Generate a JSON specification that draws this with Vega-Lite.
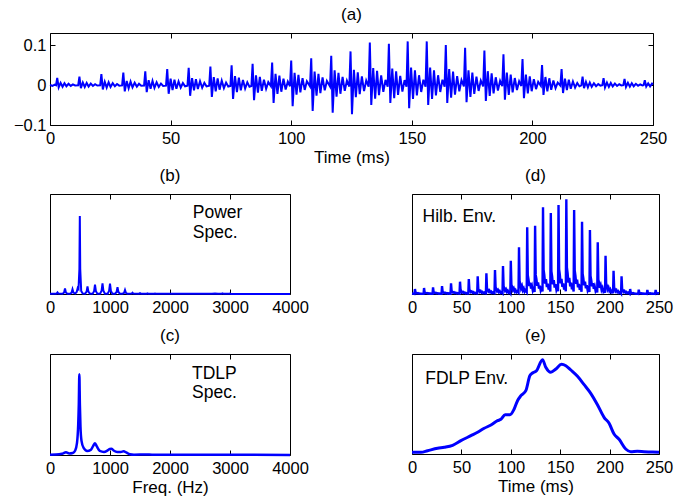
{
  "$schema": "https://vega.github.io/schema/vega-lite/v6.json",
  "padding": {"left": 12, "top": 5, "right": 5, "bottom": 2},
  "background": "white",
  "config": {
    "font": "Liberation Sans",
    "view": {"stroke": "#000", "strokeWidth": 1},
    "axis": {"offset": -5, "tickSize": 5, "tickColor": "#000", "tickWidth": 1, "domain": false, "grid": false, "labelFlush": false, "labelOverlap": false, "labelColor": "#000", "labelFontSize": 16.5, "titleColor": "#000", "titleFontSize": 17, "titleFontWeight": "normal"},
    "axisX": {"labelPadding": 5, "titlePadding": 3},
    "axisY": {"labelPadding": 4},
    "title": {"fontSize": 17, "fontWeight": "normal", "color": "#000", "offset": 9, "baseline": "middle", "frame": "group"}
  },
  "datasets": {
    "sig": [
      {"t":0,"v":0},{"t":1,"v":-0.002},{"t":2,"v":0.001},
      {"t":2.5,"v":-0.0005},{"t":3.0,"v":0.018},{"t":3.6,"v":-0.006},{"t":4.4,"v":0.0054},{"t":5.2,"v":-0.0043},{"t":6.0,"v":0.0045},{"t":6.8,"v":-0.0032},{"t":7.7,"v":0.003},{"t":8.6,"v":-0.0022},{"t":9.5,"v":0.0016},{"t":10.4,"v":-0.0011},
      {"t":11.7,"v":-0.0006},{"t":12.2,"v":0.021},{"t":12.8,"v":-0.008},{"t":13.6,"v":0.0063},{"t":14.4,"v":-0.005},{"t":15.2,"v":0.0053},{"t":16.0,"v":-0.0038},{"t":16.9,"v":0.0035},{"t":17.8,"v":-0.0025},{"t":18.7,"v":0.0019},{"t":19.6,"v":-0.0013},
      {"t":20.8,"v":-0.0008},{"t":21.3,"v":0.027},{"t":21.9,"v":-0.011},{"t":22.7,"v":0.0081},{"t":23.5,"v":-0.0065},{"t":24.3,"v":0.0068},{"t":25.1,"v":-0.0049},{"t":26.0,"v":0.0045},{"t":26.9,"v":-0.0032},{"t":27.8,"v":0.0024},{"t":28.7,"v":-0.0016},
      {"t":29.9,"v":-0.001},{"t":30.4,"v":0.031},{"t":31.0,"v":-0.016},{"t":31.8,"v":0.010},{"t":32.6,"v":-0.008},{"t":33.4,"v":0.0084},{"t":34.2,"v":-0.006},{"t":35.1,"v":0.0056},{"t":36.0,"v":-0.004},{"t":36.9,"v":0.003},{"t":37.8,"v":-0.002},
      {"t":39.0,"v":-0.0012},{"t":39.5,"v":0.034},{"t":40.1,"v":-0.018},{"t":40.9,"v":0.012},{"t":41.7,"v":-0.0096},{"t":42.5,"v":0.010},{"t":43.3,"v":-0.0072},{"t":44.2,"v":0.0067},{"t":45.1,"v":-0.0048},{"t":46.0,"v":0.0036},{"t":46.9,"v":-0.0024},
      {"t":48.1,"v":-0.0016},{"t":48.6,"v":0.040},{"t":49.2,"v":-0.022},{"t":50.0,"v":0.016},{"t":50.8,"v":-0.0128},{"t":51.6,"v":0.0134},{"t":52.4,"v":-0.0096},{"t":53.3,"v":0.009},{"t":54.2,"v":-0.0064},{"t":55.1,"v":0.0048},{"t":56.0,"v":-0.0032},
      {"t":57.0,"v":-0.0017},{"t":57.5,"v":0.043},{"t":58.1,"v":-0.027},{"t":58.9,"v":0.017},{"t":59.7,"v":-0.0136},{"t":60.5,"v":0.0143},{"t":61.3,"v":-0.0102},{"t":62.2,"v":0.0095},{"t":63.1,"v":-0.0068},{"t":64.0,"v":0.0051},{"t":64.9,"v":-0.0034},
      {"t":66.0,"v":-0.002},{"t":66.5,"v":0.046},{"t":67.1,"v":-0.030},{"t":67.9,"v":0.0195},{"t":68.7,"v":-0.0156},{"t":69.5,"v":0.0164},{"t":70.3,"v":-0.0117},{"t":71.2,"v":0.0109},{"t":72.1,"v":-0.0078},{"t":73.0,"v":0.0059},{"t":73.9,"v":-0.0039},
      {"t":74.8,"v":-0.0022},{"t":75.3,"v":0.049},{"t":75.9,"v":-0.035},{"t":76.7,"v":0.022},{"t":77.5,"v":-0.0176},{"t":78.3,"v":0.0185},{"t":79.1,"v":-0.0132},{"t":80.0,"v":0.0123},{"t":80.9,"v":-0.0088},{"t":81.8,"v":0.0066},{"t":82.7,"v":-0.0044},
      {"t":83.5,"v":-0.0024},{"t":84.0,"v":0.053},{"t":84.6,"v":-0.038},{"t":85.4,"v":0.024},{"t":86.2,"v":-0.0192},{"t":87.0,"v":0.0202},{"t":87.8,"v":-0.0144},{"t":88.7,"v":0.0134},{"t":89.6,"v":-0.0096},{"t":90.5,"v":0.0072},
      {"t":91.6,"v":-0.0028},{"t":92.1,"v":0.056},{"t":92.7,"v":-0.045},{"t":93.5,"v":0.028},{"t":94.3,"v":-0.0224},{"t":95.1,"v":0.0235},{"t":95.9,"v":-0.0168},{"t":96.8,"v":0.0157},{"t":97.7,"v":-0.0112},{"t":98.6,"v":0.0084},
      {"t":99.5,"v":-0.003},{"t":100.0,"v":0.061},{"t":100.6,"v":-0.053},{"t":101.4,"v":0.0305},{"t":102.2,"v":-0.0244},{"t":103.0,"v":0.0256},{"t":103.8,"v":-0.0183},{"t":104.7,"v":0.0171},{"t":105.6,"v":-0.0122},{"t":106.5,"v":0.0092},
      {"t":107.8,"v":-0.0034},{"t":108.3,"v":0.067},{"t":108.9,"v":-0.065},{"t":109.7,"v":0.0335},{"t":110.5,"v":-0.0268},{"t":111.3,"v":0.0281},{"t":112.1,"v":-0.0201},{"t":113.0,"v":0.0188},{"t":113.9,"v":-0.0134},{"t":114.8,"v":0.01},
      {"t":116.1,"v":-0.0037},{"t":116.6,"v":0.073},{"t":117.2,"v":-0.069},{"t":118.0,"v":0.0365},{"t":118.8,"v":-0.0292},{"t":119.6,"v":0.0307},{"t":120.4,"v":-0.0219},{"t":121.3,"v":0.0204},{"t":122.2,"v":-0.0146},{"t":123.1,"v":0.011},
      {"t":124.1,"v":-0.0038},{"t":124.6,"v":0.084},{"t":125.2,"v":-0.073},{"t":126.0,"v":0.038},{"t":126.8,"v":-0.0304},{"t":127.6,"v":0.0319},{"t":128.4,"v":-0.0228},{"t":129.3,"v":0.0213},{"t":130.2,"v":-0.0152},{"t":131.1,"v":0.0114},
      {"t":132.1,"v":-0.0043},{"t":132.6,"v":0.106},{"t":133.2,"v":-0.050},{"t":134.0,"v":0.0425},{"t":134.8,"v":-0.034},{"t":135.6,"v":0.0357},{"t":136.4,"v":-0.0255},{"t":137.3,"v":0.0238},{"t":138.2,"v":-0.017},{"t":139.1,"v":0.0128},
      {"t":140.0,"v":-0.0041},{"t":140.5,"v":0.103},{"t":141.1,"v":-0.045},{"t":141.9,"v":0.041},{"t":142.7,"v":-0.0328},{"t":143.5,"v":0.0344},{"t":144.3,"v":-0.0246},{"t":145.2,"v":0.023},{"t":146.1,"v":-0.0164},{"t":147.0,"v":0.0123},
      {"t":147.8,"v":-0.0044},{"t":148.3,"v":0.109},{"t":148.9,"v":-0.058},{"t":149.7,"v":0.0435},{"t":150.5,"v":-0.0348},{"t":151.3,"v":0.0365},{"t":152.1,"v":-0.0261},{"t":153.0,"v":0.0244},{"t":153.9,"v":-0.0174},{"t":154.8,"v":0.0131},
      {"t":155.7,"v":-0.0044},{"t":156.2,"v":0.109},{"t":156.8,"v":-0.050},{"t":157.6,"v":0.0435},{"t":158.4,"v":-0.0348},{"t":159.2,"v":0.0365},{"t":160.0,"v":-0.0261},{"t":160.9,"v":0.0244},{"t":161.8,"v":-0.0174},{"t":162.7,"v":0.0131},
      {"t":163.6,"v":-0.004},{"t":164.1,"v":0.100},{"t":164.7,"v":-0.045},{"t":165.5,"v":0.040},{"t":166.3,"v":-0.032},{"t":167.1,"v":0.0336},{"t":167.9,"v":-0.024},{"t":168.8,"v":0.0224},{"t":169.7,"v":-0.016},{"t":170.6,"v":0.012},
      {"t":171.6,"v":-0.0037},{"t":172.1,"v":0.093},{"t":172.7,"v":-0.043},{"t":173.5,"v":0.037},{"t":174.3,"v":-0.0296},{"t":175.1,"v":0.0311},{"t":175.9,"v":-0.0222},{"t":176.8,"v":0.0207},{"t":177.7,"v":-0.0148},{"t":178.6,"v":0.0111},
      {"t":179.6,"v":-0.0035},{"t":180.1,"v":0.086},{"t":180.7,"v":-0.040},{"t":181.5,"v":0.0345},{"t":182.3,"v":-0.0276},{"t":183.1,"v":0.029},{"t":183.9,"v":-0.0207},{"t":184.8,"v":0.0193},{"t":185.7,"v":-0.0138},{"t":186.6,"v":0.0104},
      {"t":187.5,"v":-0.0031},{"t":188.0,"v":0.077},{"t":188.6,"v":-0.037},{"t":189.4,"v":0.031},{"t":190.2,"v":-0.0248},{"t":191.0,"v":0.026},{"t":191.8,"v":-0.0186},{"t":192.7,"v":0.0174},{"t":193.6,"v":-0.0124},{"t":194.5,"v":0.0093},
      {"t":195.4,"v":-0.0026},{"t":195.9,"v":0.065},{"t":196.5,"v":-0.033},{"t":197.3,"v":0.026},{"t":198.1,"v":-0.0208},{"t":198.9,"v":0.0218},{"t":199.7,"v":-0.0156},{"t":200.6,"v":0.0146},{"t":201.5,"v":-0.0104},{"t":202.4,"v":0.0078},
      {"t":203.5,"v":-0.002},{"t":204.0,"v":0.050},{"t":204.6,"v":-0.025},{"t":205.4,"v":0.020},{"t":206.2,"v":-0.016},{"t":207.0,"v":0.0168},{"t":207.8,"v":-0.012},{"t":208.7,"v":0.0112},{"t":209.6,"v":-0.008},{"t":210.5,"v":0.006},
      {"t":211.6,"v":-0.0016},{"t":212.1,"v":0.040},{"t":212.7,"v":-0.020},{"t":213.5,"v":0.016},{"t":214.3,"v":-0.0128},{"t":215.1,"v":0.0134},{"t":215.9,"v":-0.0096},{"t":216.8,"v":0.009},{"t":217.7,"v":-0.0064},{"t":218.6,"v":0.0048},{"t":219.5,"v":-0.0032},
      {"t":220.3,"v":-0.0008},{"t":220.8,"v":0.021},{"t":221.4,"v":-0.008},{"t":222.2,"v":0.0075},{"t":223.0,"v":-0.006},{"t":223.8,"v":0.0063},{"t":224.6,"v":-0.0045},{"t":225.5,"v":0.0042},{"t":226.4,"v":-0.003},{"t":227.3,"v":0.0023},{"t":228.2,"v":-0.0015},
      {"t":229.0,"v":-0.0006},{"t":229.5,"v":0.017},{"t":230.1,"v":-0.006},{"t":230.9,"v":0.006},{"t":231.7,"v":-0.0048},{"t":232.5,"v":0.005},{"t":233.3,"v":-0.0036},{"t":234.2,"v":0.0034},{"t":235.1,"v":-0.0024},{"t":236.0,"v":0.0018},{"t":236.9,"v":-0.0012},
      {"t":237.7,"v":-0.0005},{"t":238.2,"v":0.015},{"t":238.8,"v":-0.005},{"t":239.6,"v":0.0053},{"t":240.4,"v":-0.0042},{"t":241.2,"v":0.0044},{"t":242.0,"v":-0.0032},{"t":242.9,"v":0.0029},{"t":243.8,"v":-0.0021},{"t":244.7,"v":0.0016},{"t":245.6,"v":-0.001},
      {"t":246.1,"v":-0.0004},{"t":246.6,"v":0.012},{"t":247.2,"v":-0.004},{"t":248.0,"v":0.0042},{"t":248.8,"v":-0.0034},{"t":249.6,"v":0.0035},{"t":250.0,"v":0.001}
    ],
    "env": [
      {"t":0,"e":0.005},{"t":1.5,"e":0.003},
      {"t":2.5,"e":0.0015},{"t":3.0,"e":0.05},{"t":3.6,"e":0.014},{"t":4.3,"e":0.011},{"t":5.1,"e":0.006},{"t":6.0,"e":0.0085},{"t":6.9,"e":0.004},{"t":7.8,"e":0.006},{"t":8.7,"e":0.0025},{"t":9.6,"e":0.004},{"t":10.5,"e":0.002},
      {"t":11.7,"e":0.0018},{"t":12.2,"e":0.06},{"t":12.8,"e":0.0168},{"t":13.5,"e":0.0132},{"t":14.3,"e":0.0072},{"t":15.2,"e":0.0102},{"t":16.1,"e":0.0048},{"t":17.0,"e":0.0072},{"t":17.9,"e":0.003},{"t":18.8,"e":0.0048},{"t":19.7,"e":0.0024},
      {"t":20.8,"e":0.002},{"t":21.3,"e":0.067},{"t":21.9,"e":0.0188},{"t":22.6,"e":0.0147},{"t":23.4,"e":0.008},{"t":24.3,"e":0.0114},{"t":25.2,"e":0.0054},{"t":26.1,"e":0.008},{"t":27.0,"e":0.0034},{"t":27.9,"e":0.0054},{"t":28.8,"e":0.0027},
      {"t":29.9,"e":0.0024},{"t":30.4,"e":0.08},{"t":31.0,"e":0.0224},{"t":31.7,"e":0.0176},{"t":32.5,"e":0.0096},{"t":33.4,"e":0.0136},{"t":34.3,"e":0.0064},{"t":35.2,"e":0.0096},{"t":36.1,"e":0.004},{"t":37.0,"e":0.0064},{"t":37.9,"e":0.0032},
      {"t":39.0,"e":0.0032},{"t":39.5,"e":0.107},{"t":40.1,"e":0.03},{"t":40.8,"e":0.0235},{"t":41.6,"e":0.0128},{"t":42.5,"e":0.0182},{"t":43.4,"e":0.0086},{"t":44.3,"e":0.0128},{"t":45.2,"e":0.0054},{"t":46.1,"e":0.0086},{"t":47.0,"e":0.0043},
      {"t":48.1,"e":0.0037},{"t":48.6,"e":0.123},{"t":49.2,"e":0.0344},{"t":49.9,"e":0.0271},{"t":50.7,"e":0.0148},{"t":51.6,"e":0.0209},{"t":52.5,"e":0.0098},{"t":53.4,"e":0.0148},{"t":54.3,"e":0.0062},{"t":55.2,"e":0.0098},{"t":56.1,"e":0.0049},
      {"t":57.0,"e":0.0045},{"t":57.5,"e":0.15},{"t":58.1,"e":0.042},{"t":58.8,"e":0.033},{"t":59.6,"e":0.018},{"t":60.5,"e":0.0255},{"t":61.4,"e":0.012},{"t":62.3,"e":0.018},{"t":63.2,"e":0.0075},{"t":64.1,"e":0.012},{"t":65.0,"e":0.006},
      {"t":66.0,"e":0.0053},{"t":66.5,"e":0.177},{"t":67.1,"e":0.0496},{"t":67.8,"e":0.0389},{"t":68.6,"e":0.0212},{"t":69.5,"e":0.0301},{"t":70.4,"e":0.0142},{"t":71.3,"e":0.0212},{"t":72.2,"e":0.0089},{"t":73.1,"e":0.0142},{"t":74.0,"e":0.0071},
      {"t":74.8,"e":0.0062},{"t":75.3,"e":0.207},{"t":75.9,"e":0.058},{"t":76.6,"e":0.0455},{"t":77.4,"e":0.0248},{"t":78.3,"e":0.0352},{"t":79.2,"e":0.0166},{"t":80.1,"e":0.0248},{"t":81.0,"e":0.0104},{"t":81.9,"e":0.0166},{"t":82.8,"e":0.0083},
      {"t":83.5,"e":0.0072},{"t":84.0,"e":0.24},{"t":84.6,"e":0.0672},{"t":85.3,"e":0.0528},{"t":86.1,"e":0.0288},{"t":87.0,"e":0.0408},{"t":87.9,"e":0.0192},{"t":88.8,"e":0.0288},{"t":89.7,"e":0.012},{"t":90.6,"e":0.0192},
      {"t":91.6,"e":0.0084},{"t":92.1,"e":0.28},{"t":92.7,"e":0.0784},{"t":93.4,"e":0.0616},{"t":94.2,"e":0.0336},{"t":95.1,"e":0.0476},{"t":96.0,"e":0.0224},{"t":96.9,"e":0.0336},{"t":97.8,"e":0.014},{"t":98.7,"e":0.0224},
      {"t":99.5,"e":0.01},{"t":100.0,"e":0.333},{"t":100.6,"e":0.0932},{"t":101.3,"e":0.0733},{"t":102.1,"e":0.04},{"t":103.0,"e":0.0566},{"t":103.9,"e":0.0266},{"t":104.8,"e":0.04},{"t":105.7,"e":0.0167},{"t":106.6,"e":0.0266},
      {"t":107.8,"e":0.014},{"t":108.3,"e":0.467},{"t":108.9,"e":0.1308},{"t":109.6,"e":0.1027},{"t":110.4,"e":0.056},{"t":111.3,"e":0.0794},{"t":112.2,"e":0.0374},{"t":113.1,"e":0.056},{"t":114.0,"e":0.0234},{"t":114.9,"e":0.0374},
      {"t":116.1,"e":0.02},{"t":116.6,"e":0.667},{"t":117.2,"e":0.1868},{"t":117.9,"e":0.1467},{"t":118.7,"e":0.08},{"t":119.6,"e":0.1134},{"t":120.5,"e":0.0534},{"t":121.4,"e":0.08},{"t":122.3,"e":0.0334},{"t":123.2,"e":0.0534},
      {"t":124.1,"e":0.0205},{"t":124.6,"e":0.683},{"t":125.2,"e":0.1912},{"t":125.9,"e":0.1503},{"t":126.7,"e":0.082},{"t":127.6,"e":0.1161},{"t":128.5,"e":0.0546},{"t":129.4,"e":0.082},{"t":130.3,"e":0.0342},{"t":131.2,"e":0.0546},
      {"t":132.1,"e":0.026},{"t":132.6,"e":0.867},{"t":133.2,"e":0.2428},{"t":133.9,"e":0.1907},{"t":134.7,"e":0.104},{"t":135.6,"e":0.1474},{"t":136.5,"e":0.0694},{"t":137.4,"e":0.104},{"t":138.3,"e":0.0434},{"t":139.2,"e":0.0694},
      {"t":140.0,"e":0.0243},{"t":140.5,"e":0.81},{"t":141.1,"e":0.2268},{"t":141.8,"e":0.1782},{"t":142.6,"e":0.0972},{"t":143.5,"e":0.1377},{"t":144.4,"e":0.0648},{"t":145.3,"e":0.0972},{"t":146.2,"e":0.0405},{"t":147.1,"e":0.0648},
      {"t":147.8,"e":0.0267},{"t":148.3,"e":0.89},{"t":148.9,"e":0.2492},{"t":149.6,"e":0.1958},{"t":150.4,"e":0.1068},{"t":151.3,"e":0.1513},{"t":152.2,"e":0.0712},{"t":153.1,"e":0.1068},{"t":154.0,"e":0.0445},{"t":154.9,"e":0.0712},
      {"t":155.7,"e":0.0284},{"t":156.2,"e":0.947},{"t":156.8,"e":0.2652},{"t":157.5,"e":0.2083},{"t":158.3,"e":0.1136},{"t":159.2,"e":0.161},{"t":160.1,"e":0.0758},{"t":161.0,"e":0.1136},{"t":161.9,"e":0.0474},{"t":162.8,"e":0.0758},
      {"t":163.6,"e":0.0252},{"t":164.1,"e":0.84},{"t":164.7,"e":0.2352},{"t":165.4,"e":0.1848},{"t":166.2,"e":0.1008},{"t":167.1,"e":0.1428},{"t":168.0,"e":0.0672},{"t":168.9,"e":0.1008},{"t":169.8,"e":0.042},{"t":170.7,"e":0.0672},
      {"t":171.6,"e":0.0217},{"t":172.1,"e":0.723},{"t":172.7,"e":0.2024},{"t":173.4,"e":0.1591},{"t":174.2,"e":0.0868},{"t":175.1,"e":0.1229},{"t":176.0,"e":0.0578},{"t":176.9,"e":0.0868},{"t":177.8,"e":0.0362},{"t":178.7,"e":0.0578},
      {"t":179.6,"e":0.0192},{"t":180.1,"e":0.64},{"t":180.7,"e":0.1792},{"t":181.4,"e":0.1408},{"t":182.2,"e":0.0768},{"t":183.1,"e":0.1088},{"t":184.0,"e":0.0512},{"t":184.9,"e":0.0768},{"t":185.8,"e":0.032},{"t":186.7,"e":0.0512},
      {"t":187.5,"e":0.0155},{"t":188.0,"e":0.517},{"t":188.6,"e":0.1448},{"t":189.3,"e":0.1137},{"t":190.1,"e":0.062},{"t":191.0,"e":0.0879},{"t":191.9,"e":0.0414},{"t":192.8,"e":0.062},{"t":193.7,"e":0.0259},{"t":194.6,"e":0.0414},
      {"t":195.4,"e":0.0115},{"t":195.9,"e":0.383},{"t":196.5,"e":0.1072},{"t":197.2,"e":0.0843},{"t":198.0,"e":0.046},{"t":198.9,"e":0.0651},{"t":199.8,"e":0.0306},{"t":200.7,"e":0.046},{"t":201.6,"e":0.0192},{"t":202.5,"e":0.0306},
      {"t":203.5,"e":0.007},{"t":204.0,"e":0.233},{"t":204.6,"e":0.0652},{"t":205.3,"e":0.0513},{"t":206.1,"e":0.028},{"t":207.0,"e":0.0396},{"t":207.9,"e":0.0186},{"t":208.8,"e":0.028},{"t":209.7,"e":0.0117},{"t":210.6,"e":0.0186},
      {"t":211.6,"e":0.0053},{"t":212.1,"e":0.177},{"t":212.7,"e":0.0496},{"t":213.4,"e":0.0389},{"t":214.2,"e":0.0212},{"t":215.1,"e":0.0301},{"t":216.0,"e":0.0142},{"t":216.9,"e":0.0212},{"t":217.8,"e":0.0089},{"t":218.7,"e":0.0142},{"t":219.6,"e":0.0071},
      {"t":220.3,"e":0.0015},{"t":220.8,"e":0.05},{"t":221.4,"e":0.014},{"t":222.1,"e":0.011},{"t":222.9,"e":0.006},{"t":223.8,"e":0.0085},{"t":224.7,"e":0.004},{"t":225.6,"e":0.006},{"t":226.5,"e":0.0025},{"t":227.4,"e":0.004},{"t":228.3,"e":0.002},
      {"t":229.0,"e":0.0013},{"t":229.5,"e":0.043},{"t":230.1,"e":0.012},{"t":230.8,"e":0.0095},{"t":231.6,"e":0.0052},{"t":232.5,"e":0.0073},{"t":233.4,"e":0.0034},{"t":234.3,"e":0.0052},{"t":235.2,"e":0.0022},{"t":236.1,"e":0.0034},{"t":237.0,"e":0.0017},
      {"t":237.7,"e":0.0012},{"t":238.2,"e":0.04},{"t":238.8,"e":0.0112},{"t":239.5,"e":0.0088},{"t":240.3,"e":0.0048},{"t":241.2,"e":0.0068},{"t":242.1,"e":0.0032},{"t":243.0,"e":0.0048},{"t":243.9,"e":0.002},{"t":244.8,"e":0.0032},{"t":245.7,"e":0.0016},
      {"t":246.1,"e":0.0012},{"t":246.6,"e":0.04},{"t":247.2,"e":0.0112},{"t":247.9,"e":0.0088},{"t":248.7,"e":0.0048},{"t":249.6,"e":0.0068},{"t":250,"e":0.005}
    ],
    "pspec": [
      {"f":0,"p":0.002},{"f":85,"p":0.002},{"f":110,"p":0.005},{"f":125,"p":0.017},{"f":140,"p":0.005},
      {"f":210,"p":0.003},{"f":235,"p":0.016},{"f":250,"p":0.054},{"f":265,"p":0.016},{"f":290,"p":0.003},
      {"f":335,"p":0.003},{"f":360,"p":0.014},{"f":375,"p":0.047},{"f":390,"p":0.014},{"f":420,"p":0.004},
      {"f":445,"p":0.02},{"f":462,"p":0.06},{"f":475,"p":0.05},{"f":490,"p":0.25},{"f":497,"p":0.78},{"f":504,"p":0.25},{"f":520,"p":0.03},{"f":545,"p":0.004},
      {"f":585,"p":0.003},{"f":610,"p":0.023},{"f":625,"p":0.077},{"f":640,"p":0.023},{"f":665,"p":0.003},
      {"f":710,"p":0.003},{"f":735,"p":0.028},{"f":750,"p":0.094},{"f":765,"p":0.028},{"f":790,"p":0.003},
      {"f":835,"p":0.003},{"f":860,"p":0.032},{"f":875,"p":0.107},{"f":890,"p":0.032},{"f":915,"p":0.003},
      {"f":960,"p":0.003},{"f":985,"p":0.031},{"f":1000,"p":0.104},{"f":1015,"p":0.031},{"f":1040,"p":0.003},
      {"f":1085,"p":0.003},{"f":1110,"p":0.02},{"f":1125,"p":0.067},{"f":1140,"p":0.02},{"f":1165,"p":0.003},
      {"f":1210,"p":0.003},{"f":1235,"p":0.012},{"f":1250,"p":0.04},{"f":1265,"p":0.012},{"f":1290,"p":0.002},
      {"f":1360,"p":0.004},{"f":1375,"p":0.013},{"f":1390,"p":0.004},
      {"f":1485,"p":0.003},{"f":1500,"p":0.008},{"f":1515,"p":0.003},
      {"f":1610,"p":0.002},{"f":1625,"p":0.006},{"f":1640,"p":0.002},
      {"f":1735,"p":0.002},{"f":1750,"p":0.004},{"f":1765,"p":0.002},
      {"f":1860,"p":0.002},{"f":1875,"p":0.003},{"f":1890,"p":0.002},
      {"f":2700,"p":0.002},{"f":2750,"p":0.005},{"f":2800,"p":0.002},{"f":2860,"p":0.002},{"f":2875,"p":0.006},{"f":2890,"p":0.002},
      {"f":2985,"p":0.002},{"f":3000,"p":0.004},{"f":3015,"p":0.001},{"f":4000,"p":0.001}
    ],
    "tdlp": [
      {"f":0,"p":0.003},{"f":100,"p":0.004},{"f":200,"p":0.012},{"f":267,"p":0.027},{"f":320,"p":0.015},{"f":380,"p":0.02},{"f":420,"p":0.045},{"f":450,"p":0.12},{"f":470,"p":0.3},{"f":480,"p":0.5},{"f":489,"p":0.8},{"f":498,"p":0.5},{"f":508,"p":0.28},{"f":525,"p":0.14},{"f":560,"p":0.07},{"f":620,"p":0.04},{"f":680,"p":0.05},{"f":720,"p":0.09},{"f":750,"p":0.117},{"f":780,"p":0.085},{"f":830,"p":0.04},{"f":900,"p":0.03},{"f":960,"p":0.045},{"f":1000,"p":0.06},{"f":1022,"p":0.063},{"f":1060,"p":0.045},{"f":1120,"p":0.03},{"f":1180,"p":0.03},{"f":1228,"p":0.037},{"f":1270,"p":0.025},{"f":1330,"p":0.008},{"f":1400,"p":0.003},{"f":1600,"p":0.005},{"f":1700,"p":0.003},{"f":2000,"p":0.002},{"f":2800,"p":0.003},{"f":4000,"p":0.001}
    ],
    "fdlp": [
      {"t":0,"e":0.017},{"t":9.1,"e":0.017},{"t":15.8,"e":0.033},{"t":25.9,"e":0.057},{"t":32.7,"e":0.067},{"t":41.1,"e":0.087},{"t":49.5,"e":0.133},{"t":59.6,"e":0.183},{"t":66.4,"e":0.217},{"t":73.1,"e":0.257},{"t":79.9,"e":0.29},{"t":86.6,"e":0.333},{"t":90.0,"e":0.347},{"t":94.3,"e":0.393},{"t":99.1,"e":0.393},{"t":103.4,"e":0.45},{"t":106.8,"e":0.533},{"t":110.2,"e":0.583},{"t":115.2,"e":0.633},{"t":119.3,"e":0.783},{"t":122.0,"e":0.81},{"t":126.0,"e":0.833},{"t":132.1,"e":0.943},{"t":135.4,"e":0.867},{"t":140.5,"e":0.817},{"t":145.6,"e":0.85},{"t":151.3,"e":0.897},{"t":155.7,"e":0.883},{"t":160.7,"e":0.84},{"t":167.5,"e":0.777},{"t":174.2,"e":0.693},{"t":180.9,"e":0.607},{"t":187.7,"e":0.493},{"t":194.4,"e":0.367},{"t":199.5,"e":0.307},{"t":204.5,"e":0.2},{"t":209.6,"e":0.147},{"t":216.3,"e":0.05},{"t":221.4,"e":0.023},{"t":228.1,"e":0.027},{"t":234.8,"e":0.023},{"t":241.6,"e":0.02},{"t":250,"e":0.017}
    ],
    "notes": [
      {"panel":"b","x":2380,"y":0.807,"t":"Power"},{"panel":"b","x":2380,"y":0.607,"t":"Spec."},
      {"panel":"c","x":2367,"y":0.80,"t":"TDLP"},{"panel":"c","x":2367,"y":0.61,"t":"Spec."},
      {"panel":"d","x":10.7,"y":0.77,"t":"Hilb. Env."},
      {"panel":"e","x":13.4,"y":0.747,"t":"FDLP Env."}
    ]
  },
  "bounds": "flush",
  "spacing": 69,
  "vconcat": [
    {
      "width": 603, "height": 92,
      "title": {"text": "(a)"},
      "layer": [
        {"data": {"name": "sig"}, "mark": {"type": "line", "color": "#0000ff", "strokeWidth": 2},
         "encoding": {
           "x": {"field": "t", "type": "quantitative", "scale": {"domain": [0, 250], "nice": false, "zero": false}, "axis": {"values": [0, 50, 100, 150, 200, 250], "format": "d", "title": "Time (ms)"}},
           "y": {"field": "v", "type": "quantitative", "scale": {"domain": [-0.1, 0.13], "nice": false, "zero": false}, "axis": {"values": [-0.1, 0, 0.1], "format": "~g", "title": null}}
         }},
        {"data": {"name": "sig"}, "mark": {"type": "line", "opacity": 0},
         "encoding": {
           "x": {"field": "t", "type": "quantitative", "scale": {"domain": [0, 250], "nice": false, "zero": false}, "axis": {"orient": "top", "values": [0, 50, 100, 150, 200, 250], "labels": false, "title": null}},
           "y": {"field": "v", "type": "quantitative", "scale": {"domain": [-0.1, 0.13], "nice": false, "zero": false}, "axis": {"orient": "right", "values": [-0.1, 0, 0.1], "labels": false, "title": null}}
         }}
      ],
      "resolve": {"axis": {"x": "independent", "y": "independent"}}
    },
    {
      "bounds": "flush",
      "spacing": 362,
      "hconcat": [
        {
          "bounds": "flush",
          "spacing": 60,
          "vconcat": [
            {
              "width": 240, "height": 100,
              "title": {"text": "(b)"},
              "layer": [
                {"data": {"name": "pspec"}, "mark": {"type": "line", "color": "#0000ff", "strokeWidth": 2},
                 "encoding": {
                   "x": {"field": "f", "type": "quantitative", "scale": {"domain": [0, 4000], "nice": false}, "axis": {"values": [0, 1000, 2000, 3000, 4000], "format": "d", "title": null}},
                   "y": {"field": "p", "type": "quantitative", "scale": {"domain": [0, 1], "nice": false}, "axis": null}
                 }},
                {"data": {"name": "notes"}, "transform": [{"filter": "datum.panel === 'b'"}],
                 "mark": {"type": "text", "align": "left", "baseline": "middle", "fontSize": 17.5, "color": "#000"},
                 "encoding": {
                   "x": {"field": "x", "type": "quantitative", "scale": {"domain": [0, 4000], "nice": false}, "axis": {"orient": "top", "values": [0, 1000, 2000, 3000, 4000], "labels": false, "title": null}},
                   "y": {"field": "y", "type": "quantitative", "scale": {"domain": [0, 1], "nice": false}, "axis": null},
                   "text": {"field": "t"}
                 }}
              ],
              "resolve": {"axis": {"x": "independent"}}
            },
            {
              "width": 240, "height": 101,
              "title": {"text": "(c)"},
              "layer": [
                {"data": {"name": "tdlp"}, "mark": {"type": "line", "color": "#0000ff", "strokeWidth": 2.5, "interpolate": "monotone"},
                 "encoding": {
                   "x": {"field": "f", "type": "quantitative", "scale": {"domain": [0, 4000], "nice": false}, "axis": {"values": [0, 1000, 2000, 3000, 4000], "format": "d", "title": "Freq. (Hz)"}},
                   "y": {"field": "p", "type": "quantitative", "scale": {"domain": [0, 1], "nice": false}, "axis": null}
                 }},
                {"data": {"name": "notes"}, "transform": [{"filter": "datum.panel === 'c'"}],
                 "mark": {"type": "text", "align": "left", "baseline": "middle", "fontSize": 17.5, "color": "#000"},
                 "encoding": {
                   "x": {"field": "x", "type": "quantitative", "scale": {"domain": [0, 4000], "nice": false}, "axis": {"orient": "top", "values": [0, 1000, 2000, 3000, 4000], "labels": false, "title": null}},
                   "y": {"field": "y", "type": "quantitative", "scale": {"domain": [0, 1], "nice": false}, "axis": null},
                   "text": {"field": "t"}
                 }}
              ],
              "resolve": {"axis": {"x": "independent"}}
            }
          ]
        },
        {
          "bounds": "flush",
          "spacing": 60,
          "vconcat": [
            {
              "width": 247, "height": 100,
              "title": {"text": "(d)"},
              "layer": [
                {"data": {"name": "env"}, "mark": {"type": "line", "color": "#0000ff", "strokeWidth": 2.4},
                 "encoding": {
                   "x": {"field": "t", "type": "quantitative", "scale": {"domain": [0, 250], "nice": false}, "axis": {"values": [0, 50, 100, 150, 200, 250], "format": "d", "title": null}},
                   "y": {"field": "e", "type": "quantitative", "scale": {"domain": [0, 1], "nice": false}, "axis": null}
                 }},
                {"data": {"name": "notes"}, "transform": [{"filter": "datum.panel === 'd'"}],
                 "mark": {"type": "text", "align": "left", "baseline": "middle", "fontSize": 17.5, "color": "#000"},
                 "encoding": {
                   "x": {"field": "x", "type": "quantitative", "scale": {"domain": [0, 250], "nice": false}, "axis": {"orient": "top", "values": [0, 50, 100, 150, 200, 250], "labels": false, "title": null}},
                   "y": {"field": "y", "type": "quantitative", "scale": {"domain": [0, 1], "nice": false}, "axis": null},
                   "text": {"field": "t"}
                 }}
              ],
              "resolve": {"axis": {"x": "independent"}}
            },
            {
              "width": 247, "height": 100,
              "title": {"text": "(e)"},
              "layer": [
                {"data": {"name": "fdlp"}, "mark": {"type": "line", "color": "#0000ff", "strokeWidth": 3, "interpolate": "monotone"},
                 "encoding": {
                   "x": {"field": "t", "type": "quantitative", "scale": {"domain": [0, 250], "nice": false}, "axis": {"values": [0, 50, 100, 150, 200, 250], "format": "d", "title": "Time (ms)"}},
                   "y": {"field": "e", "type": "quantitative", "scale": {"domain": [0, 1], "nice": false}, "axis": null}
                 }},
                {"data": {"name": "notes"}, "transform": [{"filter": "datum.panel === 'e'"}],
                 "mark": {"type": "text", "align": "left", "baseline": "middle", "fontSize": 17.5, "color": "#000"},
                 "encoding": {
                   "x": {"field": "x", "type": "quantitative", "scale": {"domain": [0, 250], "nice": false}, "axis": {"orient": "top", "values": [0, 50, 100, 150, 200, 250], "labels": false, "title": null}},
                   "y": {"field": "y", "type": "quantitative", "scale": {"domain": [0, 1], "nice": false}, "axis": null},
                   "text": {"field": "t"}
                 }}
              ],
              "resolve": {"axis": {"x": "independent"}}
            }
          ]
        }
      ]
    }
  ]
}
